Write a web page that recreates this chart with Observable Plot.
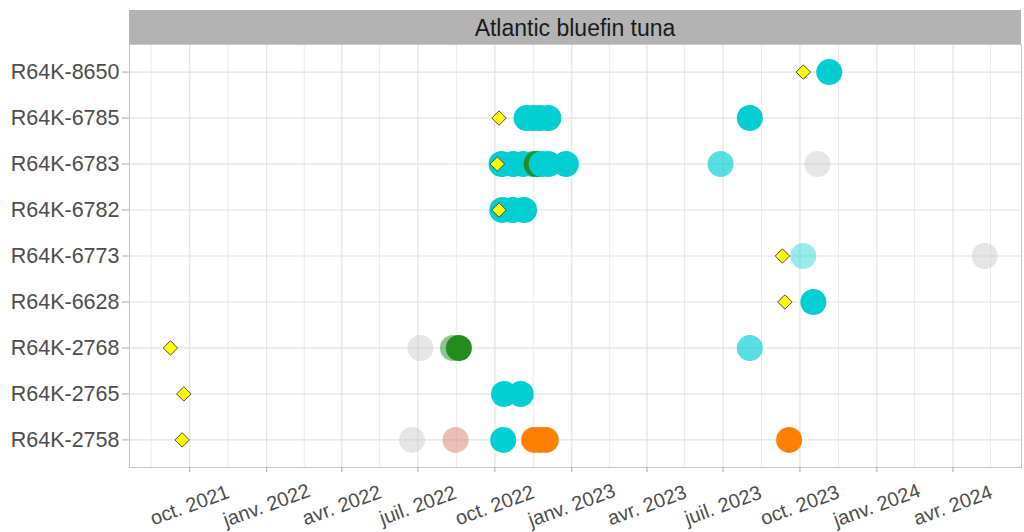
<!DOCTYPE html>
<html><head><meta charset="utf-8">
<script src="https://cdn.jsdelivr.net/npm/d3@7"></script>
<script src="https://cdn.jsdelivr.net/npm/@observablehq/plot@0.6"></script>
<style>body{margin:0;background:#fff;}</style>
</head><body><div id="chart"></div>
<script>
// ---- Data ----
const stripTitle = "Atlantic bluefin tuna";
const tags = ["R64K-8650","R64K-6785","R64K-6783","R64K-6782","R64K-6773","R64K-6628","R64K-2768","R64K-2765","R64K-2758"];
const taggingDates = ["2023-10-05","2022-10-06","2022-10-04","2022-10-06","2023-09-10","2023-09-13","2021-09-08","2021-09-24","2021-09-22"];

const detTag = [
  "R64K-8650",
  "R64K-6785","R64K-6785","R64K-6785","R64K-6785","R64K-6785",
  "R64K-6783","R64K-6783","R64K-6783","R64K-6783","R64K-6783","R64K-6783","R64K-6783","R64K-6783","R64K-6783","R64K-6783",
  "R64K-6782","R64K-6782","R64K-6782",
  "R64K-6773","R64K-6773",
  "R64K-6628",
  "R64K-2768","R64K-2768","R64K-2768","R64K-2768",
  "R64K-2765","R64K-2765",
  "R64K-2758","R64K-2758","R64K-2758","R64K-2758","R64K-2758","R64K-2758","R64K-2758"
];
const detDate = [
  "2023-11-05",
  "2022-11-08","2022-11-16","2022-11-24","2022-12-04","2023-08-02",
  "2022-10-09","2022-10-23","2022-11-04","2022-11-16","2022-11-20","2022-11-26","2022-12-04","2022-12-25","2023-06-28","2023-10-22",
  "2022-10-10","2022-10-22","2022-11-05",
  "2023-10-05","2024-05-09",
  "2023-10-17",
  "2022-07-04","2022-08-12","2022-08-19","2023-08-02",
  "2022-10-12","2022-11-01",
  "2022-06-24","2022-08-15","2022-10-11","2022-11-17","2022-11-24","2022-12-01","2023-09-18"
];
const detGroup = [
  "A",
  "A","A","A","A","A",
  "A","A","A","A","B","A","A","A","A","E",
  "A","A","A",
  "A","E",
  "A",
  "E","B","B","A",
  "A","A",
  "E","D","A","C","C","C","C"
];
const detAlpha = [
  1,
  1,1,1,1,1,
  1,1,1,1,1,1,1,1,0.65,0.45,
  1,1,1,
  0.4,0.45,
  1,
  0.45,0.5,1,0.65,
  1,1,
  0.45,0.55,1,1,1,1,1
];
const groups = ["A","B","C","D","E"];
const groupColors = ["#00CED1","#228B22","#FF7F00","#D98A78","#C8C8C8"];

const majorTickDates = ["2021-10-01","2022-01-01","2022-04-01","2022-07-01","2022-10-01","2023-01-01","2023-04-01","2023-07-01","2023-10-01","2024-01-01","2024-04-01"];
const majorTickLabels = ["oct. 2021","janv. 2022","avr. 2022","juil. 2022","oct. 2022","janv. 2023","avr. 2023","juil. 2023","oct. 2023","janv. 2024","avr. 2024"];
const minorTickDates = ["2021-08-16","2021-11-16","2022-02-15","2022-05-16","2022-08-16","2022-11-16","2023-02-15","2023-05-16","2023-08-16","2023-11-16","2024-02-15","2024-05-16"];
const xDomain = ["2021-07-21","2024-06-22"];

// ---- Build tables ----
const parse = d3.utcParse("%Y-%m-%d");
const detections = detTag.map((t, i) => ({tag: t, date: parse(detDate[i]), group: detGroup[i], alpha: detAlpha[i]}));
const tagging = tags.map((t, i) => ({tag: t, date: parse(taggingDates[i])}));
const majors = majorTickDates.map(parse);
const minors = minorTickDates.map(parse);
const labelMap = new Map(majors.map((d, i) => [+d, majorTickLabels[i]]));

const chart = Plot.plot({
  width: 1024, height: 532,
  marginLeft: 129, marginRight: 3, marginTop: 44, marginBottom: 65,
  style: {fontFamily: "'Liberation Sans', Arial, sans-serif", background: "#fff", overflow: "visible"},
  x: {type: "utc", domain: xDomain.map(parse)},
  y: {type: "point", domain: tags, padding: 0.6, round: false},
  color: {domain: groups, range: groupColors},
  opacity: {domain: [0, 1], range: [0, 1]},
  marks: [
    Plot.gridX(minors, {stroke: "#EBEBEB", strokeOpacity: 1, strokeWidth: 1}),
    Plot.gridX(majors, {stroke: "#E3E3E3", strokeOpacity: 1, strokeWidth: 1.2}),
    Plot.gridY(tags, {stroke: "#E3E3E3", strokeOpacity: 1, strokeWidth: 1.2}),
    Plot.frame({stroke: "#C4C4C4"}),
    Plot.axisY({tickSize: 7, tickPadding: 3, fontSize: 21.5, fill: "#4D4D4D", stroke: "#A8A8A8", label: null}),
    Plot.axisX(majors, {tickSize: 5, tickPadding: 33, tickRotate: -20, textAnchor: "middle", lineAnchor: "middle",
      fontSize: 20, fill: "#4D4D4D", stroke: "#A8A8A8", label: null, tickFormat: d => labelMap.get(+d)}),
    Plot.dot(detections, {x: "date", y: "tag", r: 13, fill: "group", fillOpacity: "alpha", stroke: null}),
    Plot.dot(tagging, {x: "date", y: "tag", symbol: "diamond2", r: 6.5, fill: "#FFFF00", stroke: "#3A3A3A", strokeWidth: 0.9})
  ]
});

// facet strip
const svg = d3.select(chart);
const xr = chart.scale("x").range;
svg.append("rect").attr("x", xr[0]).attr("y", 10).attr("width", xr[1] - xr[0]).attr("height", 34).attr("fill", "#B3B3B3");
svg.append("text").attr("x", (xr[0] + xr[1]) / 2).attr("y", 28).attr("text-anchor", "middle").attr("dominant-baseline", "central")
  .attr("font-size", 23).attr("fill", "#1A1A1A").text(stripTitle);

document.getElementById("chart").appendChild(chart);
</script>
</body></html>
